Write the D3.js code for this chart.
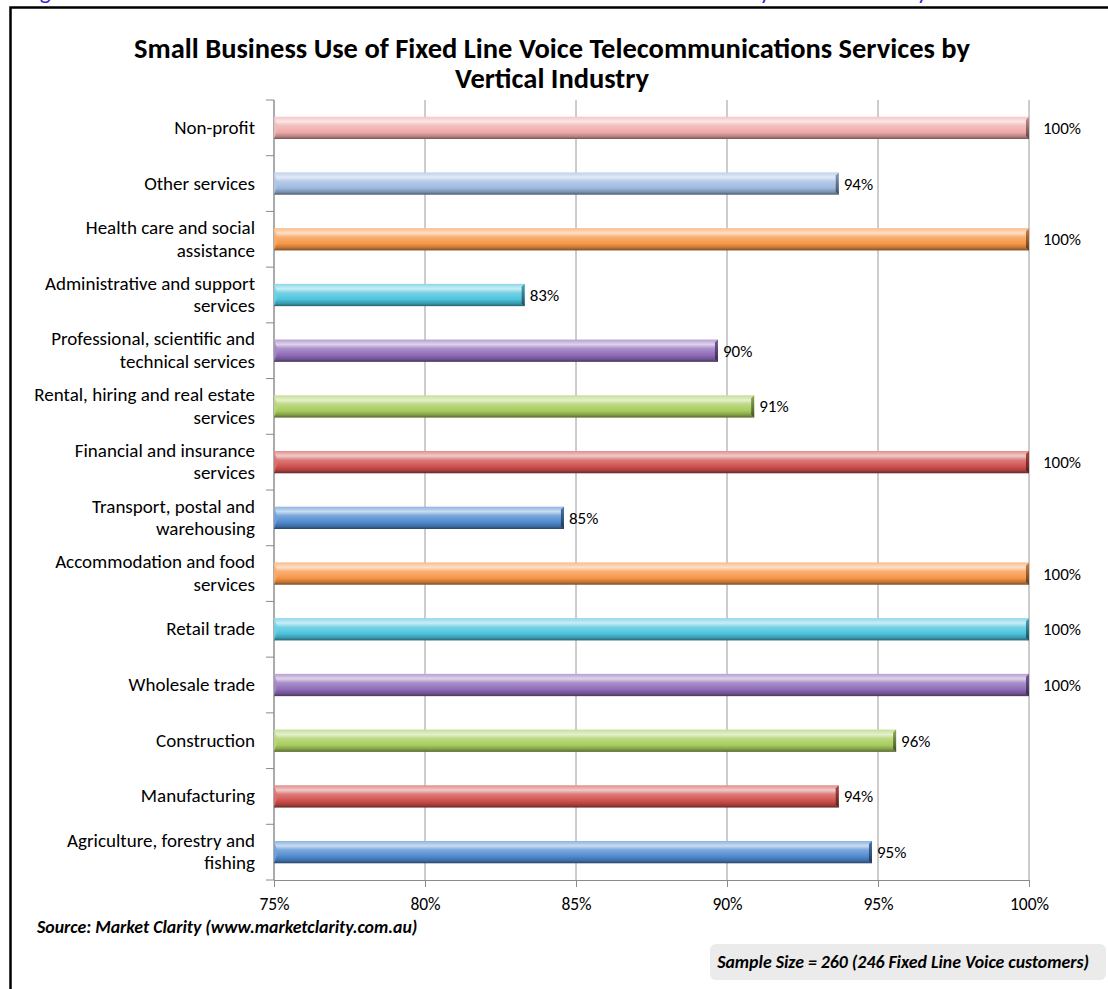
<!DOCTYPE html>
<html>
<head>
<meta charset="utf-8">
<script src="https://cdn.jsdelivr.net/npm/d3@7/dist/d3.min.js"></script>
<style>
  html, body { margin: 0; padding: 0; background: #fff; }
  svg { display: block; }
  text { font-family: Carlito, Lato, "Open Sans", sans-serif; }
</style>
</head>
<body>
<script>
// ---- data ----
const categories = [
  "Non-profit",
  "Other services",
  "Health care and social\nassistance",
  "Administrative and support\nservices",
  "Professional, scientific and\ntechnical services",
  "Rental, hiring and real estate\nservices",
  "Financial and insurance\nservices",
  "Transport, postal and\nwarehousing",
  "Accommodation and food\nservices",
  "Retail trade",
  "Wholesale trade",
  "Construction",
  "Manufacturing",
  "Agriculture, forestry and\nfishing"
];
const values = [100, 93.7, 100, 83.3, 89.7, 90.9, 100, 84.6, 100, 100, 100, 95.6, 93.7, 94.8];
const valueLabels = ["100%", "94%", "100%", "83%", "90%", "91%", "100%", "85%", "100%", "100%", "100%", "96%", "94%", "95%"];
const barColors = ["#eea9a8", "#9db9e0", "#f79646", "#4bc3dc", "#8e6bb8", "#a7cc5c", "#d0504d", "#4f8ad0",
                   "#f79646", "#4bc3dc", "#8e6bb8", "#a7cc5c", "#d0504d", "#4f8ad0"];
const xTicks = [75, 80, 85, 90, 95, 100];
const titleLines = ["Small Business Use of Fixed Line Voice Telecommunications Services by", "Vertical Industry"];
const sourceText = "Source: Market Clarity (www.marketclarity.com.au)";
const sampleText = "Sample Size = 260 (246 Fixed Line Voice customers)";
const captionText = "Figure 3: Small Business Use of Fixed Line Voice Telecommunications Services by Vertical Industry";

// ---- layout ----
const W = 1108, H = 989;
const plot = { left: 274, right: 1029, top: 100, bottom: 880 };
const FONT = "Carlito, Lato, 'Open Sans', sans-serif";

const svg = d3.select("body").append("svg").attr("width", W).attr("height", H);

// cut-off caption at the very top
svg.append("text").attr("x", 24).attr("y", -1)
  .attr("fill", "#3420d8").attr("font-size", 23)
  .text(captionText);

// frame
svg.append("path").attr("d", `M10.5,${H + 5} L10.5,7.5 L${W + 5},7.5`)
  .attr("fill", "none").attr("stroke", "#000").attr("stroke-width", 2.5);

// title
svg.append("g").selectAll("text").data(titleLines).join("text")
  .attr("x", 552).attr("y", (d, i) => 58 + i * 30)
  .attr("text-anchor", "middle").attr("font-weight", "bold").attr("font-size", 28.5)
  .attr("fill", "#000").text(d => d);

const x = d3.scaleLinear().domain([75, 100]).range([plot.left, plot.right]);
const y = d3.scaleBand().domain(categories).range([plot.top, plot.bottom]).paddingInner(0.6).paddingOuter(0.3);

// gridlines
svg.append("g").selectAll("line").data(xTicks).join("line")
  .attr("x1", d => x(d)).attr("x2", d => x(d))
  .attr("y1", plot.top).attr("y2", plot.bottom)
  .attr("stroke", "#9a9a9a").attr("stroke-width", 1);

// x axis
const xAxis = d3.axisBottom(x).tickValues(xTicks).tickFormat(d => d + "%").tickSize(7).tickPadding(11);
const gx = svg.append("g").attr("transform", `translate(0,${plot.bottom})`).call(xAxis);
gx.select(".domain").attr("stroke", "#8a8a8a");
gx.selectAll(".tick line").attr("stroke", "#8a8a8a");
gx.selectAll(".tick text").attr("font-size", 17.5).attr("fill", "#000").attr("font-family", FONT);

// y axis line + boundary ticks
const step = y.step();
const y0 = y.range()[0];
svg.append("line").attr("x1", plot.left).attr("x2", plot.left)
  .attr("y1", plot.top).attr("y2", plot.bottom).attr("stroke", "#8a8a8a");
svg.append("g").selectAll("line").data(d3.range(categories.length + 1)).join("line")
  .attr("x1", plot.left - 8).attr("x2", plot.left)
  .attr("y1", i => y0 + i * step).attr("y2", i => y0 + i * step)
  .attr("stroke", "#8a8a8a");

// gradients
const defs = svg.append("defs");
function mix(c, t, amt) { return d3.interpolateRgb(c, t)(amt); }
barColors.forEach((c, i) => {
  const g = defs.append("linearGradient").attr("id", "g" + i)
    .attr("x1", 0).attr("y1", 0).attr("x2", 0).attr("y2", 1);
  const stops = [
    [0, mix(c, "#fff", 0.35)],
    [0.22, mix(c, "#fff", 0.7)],
    [0.4, mix(c, "#fff", 0.25)],
    [0.7, c],
    [0.88, mix(c, "#000", 0.22)],
    [1, mix(c, "#000", 0.5)]
  ];
  stops.forEach(s => g.append("stop").attr("offset", s[0]).attr("stop-color", s[1]));
  const ge = defs.append("linearGradient").attr("id", "e" + i)
    .attr("x1", 0).attr("y1", 0).attr("x2", 0).attr("y2", 1);
  ge.append("stop").attr("offset", 0).attr("stop-color", mix(c, "#000", 0.15));
  ge.append("stop").attr("offset", 1).attr("stop-color", mix(c, "#000", 0.6));
});

// bars
const bars = svg.append("g").selectAll("g").data(categories).join("g");
bars.append("rect")
  .attr("x", x(75)).attr("y", d => y(d))
  .attr("width", (d, i) => x(values[i]) - x(75))
  .attr("height", y.bandwidth())
  .attr("fill", (d, i) => `url(#g${i})`);
bars.append("path")
  .attr("d", (d, i) => {
    const xe = x(values[i]), yt = y(d), h = y.bandwidth();
    return `M${xe - 3},${yt + 3} L${xe},${yt} L${xe},${yt + h} L${xe - 3},${yt + h - 3} Z`;
  })
  .attr("fill", (d, i) => `url(#e${i})`);
bars.append("path")
  .attr("d", (d, i) => {
    const xs = x(75), yt = y(d), h = y.bandwidth();
    return `M${xs},${yt} L${xs + 4},${yt + h / 2} L${xs},${yt + h} Z`;
  })
  .attr("fill", (d, i) => mix(barColors[i], "#fff", 0.2)).attr("opacity", 0.8);

// value labels
svg.append("g").selectAll("text").data(categories).join("text")
  .attr("x", (d, i) => x(values[i]) + (values[i] >= 100 ? 14 : 5))
  .attr("y", d => y(d) + y.bandwidth() / 2 + 6)
  .attr("font-size", 17).attr("fill", "#000")
  .text((d, i) => valueLabels[i]);

// category labels
const cl = svg.append("g").selectAll("text").data(categories).join("text")
  .attr("text-anchor", "end").attr("font-size", 19).attr("fill", "#000");
cl.each(function (d) {
  const lines = d.split("\n");
  const cy = y(d) + y.bandwidth() / 2;
  const lh = 22.5;
  const start = cy - (lines.length - 1) * lh / 2 + 6;
  d3.select(this).selectAll("tspan").data(lines).join("tspan")
    .attr("x", 255).attr("y", (l, j) => start + j * lh).text(l => l);
});

// source
svg.append("text").attr("x", 37).attr("y", 933)
  .attr("font-size", 17.8).attr("font-weight", "bold").attr("font-style", "italic")
  .text(sourceText);

// sample size box
svg.append("rect").attr("x", 710).attr("y", 944).attr("width", 396).attr("height", 36)
  .attr("rx", 6).attr("fill", "#ebebeb");
svg.append("text").attr("x", 1089).attr("y", 968).attr("text-anchor", "end")
  .attr("font-size", 17.8).attr("font-weight", "bold").attr("font-style", "italic")
  .text(sampleText);
</script>
</body>
</html>
